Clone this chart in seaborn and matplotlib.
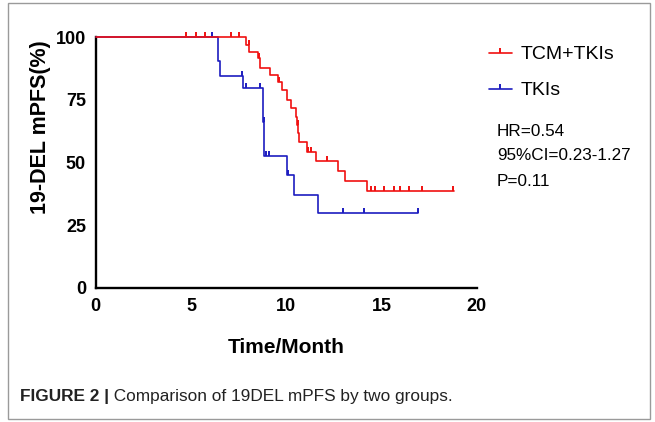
import numpy as np
import matplotlib
matplotlib.use("Agg")
import matplotlib.pyplot as plt
import seaborn as sns
from matplotlib.lines import Line2D
from matplotlib.markers import MarkerStyle
from matplotlib.patches import Rectangle
from matplotlib.path import Path

# --- 1. DATA ---
groups = ["TCM+TKIs", "TKIs"]
colors = ["#f01010", "#1c1cc0"]

# Kaplan-Meier steps: time of each step (months) and survival after it (%)
red_time = [0, 7.90, 8.05, 8.50, 8.62, 9.15, 9.57, 9.76, 10.03, 10.24, 10.50,
            10.58, 10.64, 10.69, 11.08, 11.56, 12.74, 13.09, 14.23, 18.80]
red_surv = [100, 96.9, 94.2, 91.6, 87.8, 84.9, 82.3, 79.0, 75.0, 71.7, 68.3,
            65.0, 61.7, 58.3, 54.3, 50.8, 46.7, 42.7, 38.8, 38.8]
red_censor = [4.74, 5.25, 5.74, 7.09, 7.52, 8.03, 8.55, 9.60, 10.60, 11.15,
              11.32, 12.12, 14.47, 14.66, 15.13, 15.65, 15.98, 16.44, 17.13, 18.78]

blue_time = [0, 6.40, 6.52, 7.75, 8.80, 8.86, 10.06, 10.43, 11.69, 16.90]
blue_surv = [100, 90.6, 84.6, 79.7, 66.3, 52.6, 45.0, 37.2, 29.9, 29.9]
blue_censor = [6.10, 7.70, 7.87, 8.62, 8.82, 8.95, 9.10, 10.10, 13.00, 14.08, 16.90]

stats_lines = ["HR=0.54", "95%CI=0.23-1.27", "P=0.11"]
x_ticks = [0, 5, 10, 15, 20]
y_ticks = [0, 25, 50, 75, 100]
caption_bold = "FIGURE 2 |"
caption_text = " Comparison of 19DEL mPFS by two groups."


def surv_at(times, survs, t):
    idx = np.searchsorted(times, t, side="right") - 1
    return np.asarray(survs)[idx]


# --- 2. STYLE ---
sns.set_theme(style="white")
plt.rcParams["font.family"] = ["Liberation Sans", "DejaVu Sans"]
plt.rcParams["text.color"] = "black"
plt.rcParams["axes.labelcolor"] = "black"
plt.rcParams["xtick.color"] = "black"
plt.rcParams["ytick.color"] = "black"

W, H = 655, 422
fig = plt.figure(figsize=(W / 100, H / 100), dpi=100)
ax = fig.add_axes([95.7 / W, 1 - 288 / H, (476.7 - 95.7) / W, (288 - 37.3) / H])

tick_marker = MarkerStyle(Path([(0, 0), (0, 1)], [Path.MOVETO, Path.LINETO]))

# blue first so the red curve sits on top along the 100% line
curves = [(blue_time, blue_surv, blue_censor, colors[1], 3),
          (red_time, red_surv, red_censor, colors[0], 5)]
for t, s, cens, c, z in curves:
    sns.lineplot(x=t, y=s, estimator=None, sort=False, drawstyle="steps-post",
                 color=c, linewidth=1.2, ax=ax, zorder=z, clip_on=False)
    sns.scatterplot(x=cens, y=surv_at(t, s, cens), marker=tick_marker, s=55,
                    color=c, edgecolor=c, linewidth=1.4, ax=ax, zorder=z + 1,
                    clip_on=False)

# --- 3. AXES ---
ax.set_xlim(0, 20)
ax.set_ylim(0, 100)
ax.set_xticks(x_ticks)
ax.set_yticks(y_ticks)
for side in ["top", "right"]:
    ax.spines[side].set_visible(False)
for side in ["left", "bottom"]:
    ax.spines[side].set_linewidth(1.7)
    ax.spines[side].set_color("black")
ax.tick_params(direction="out", length=4, width=1.7, color="black",
               labelsize=13, pad=3)
for lbl in ax.get_xticklabels() + ax.get_yticklabels():
    lbl.set_fontweight("bold")
ax.set_xlabel("Time/Month", fontsize=15, fontweight="bold")
ax.set_ylabel("19-DEL mPFS(%)", fontsize=15.5, fontweight="bold")
ax.xaxis.set_label_coords(0.5, -0.2)
ax.yaxis.set_label_coords(-0.117, 0.64)
ax.grid(False)

# --- 4. LEGEND + STATS ---
handles = [Line2D([0], [0], color=c, lw=1.2, marker=tick_marker, markersize=7,
                  markeredgewidth=1.4) for c in colors]
fig.legend(handles, groups, loc="upper left",
           bbox_to_anchor=(479 / W, 1 - 36 / H), frameon=False, fontsize=14,
           handlelength=1.2, handletextpad=0.45, labelspacing=0.95, borderpad=0)

for i, line in enumerate(stats_lines):
    fig.text(497 / W, 1 - (131 + 25 * i) / H, line, fontsize=12.3,
             va="center", ha="left")

# --- 5. CAPTION + FRAME ---
cap = fig.text(20 / W, 1 - 397 / H, caption_bold, fontsize=12.4,
               fontweight="bold", va="center", ha="left", color="#222222")
fig.canvas.draw()
bb = cap.get_window_extent()
fig.text(bb.x1 / W, 1 - 397 / H, caption_text, fontsize=12.4,
         va="center", ha="left", color="#222222")

fig.add_artist(Rectangle((8 / W, 3 / H), (650 - 8) / W, (419 - 3) / H,
                         transform=fig.transFigure, fill=False,
                         edgecolor="#9a9a9a", linewidth=1))

fig.savefig("out.png", dpi=100)
